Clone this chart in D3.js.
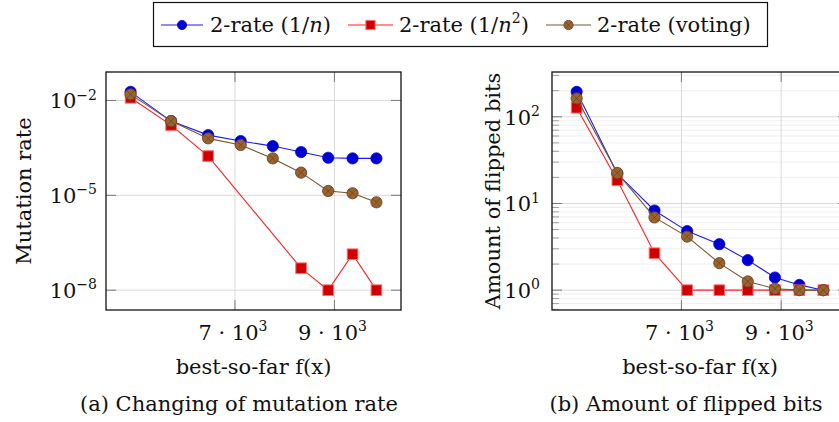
<!DOCTYPE html>
<html>
<head>
<meta charset="utf-8">
<script src="https://cdn.jsdelivr.net/npm/d3@7/dist/d3.min.js"></script>
<style>
  html, body { margin: 0; padding: 0; background: #fff; }
  svg { display: block; }
  text { font-family: "DejaVu Serif", "Liberation Serif", serif; fill: #111; }
</style>
</head>
<body>
<svg id="chart" width="839" height="422"></svg>
<script>
// best-so-far fitness at which each sample was taken
const fitness = [4900, 5715, 6460, 7115, 7760, 8330, 8875, 9365, 9845];

// mutation rate per strategy (null = zero rate, not drawn on log axis)
const rateOneOverN  = [0.0187, 0.00222, 8.0e-4, 5.2e-4, 3.6e-4, 2.33e-4, 1.54e-4, 1.47e-4, 1.47e-4];
const rateOneOverN2 = [0.0121, 1.66e-3, 1.74e-4, null, null, 4.95e-8, 1e-8, 1.37e-7, 1e-8];
const rateVoting    = [0.0155, 2.22e-3, 6.3e-4, 3.9e-4, 1.47e-4, 5.2e-5, 1.37e-5, 1.16e-5, 6.0e-6];

// amount of flipped bits per strategy
const bitsOneOverN  = [194, 22, 8.3, 4.8, 3.39, 2.22, 1.40, 1.15, 1.0];
const bitsOneOverN2 = [127, 18.5, 2.67, 1, 1, 1, 1, 1, 1];
const bitsVoting    = [163, 22.5, 6.9, 4.15, 2.05, 1.26, 1.04, 1.0, 1.0];

const xTicks = [7000, 9000];
const rateTicks = [1e-2, 1e-5, 1e-8];
const bitsTicks = [1, 10, 100];

const seriesNames = ["2-rate (1/n)", "2-rate (1/n²)", "2-rate (voting)"];

const svg = d3.select("#chart");

const styles = [
  { line: "#1a1aff", fill: "#0000d0", stroke: "#0000e0", shape: "circle" },
  { line: "#ff2020", fill: "#d00000", stroke: "#ff6a6a", shape: "square" },
  { line: "#7a5530", fill: "#9a6430", stroke: "#6a4420", shape: "otimes" }
];

// pgfplots-style enlarged limits (10% of the data range on each side)
function enlarge(lo, hi) { const p = (hi - lo) * 0.1; return [lo - p, hi + p]; }
function enlargeLog(vals) {
  const ls = vals.map(Math.log10);
  const [a, b] = enlarge(d3.min(ls), d3.max(ls));
  return [Math.pow(10, a), Math.pow(10, b)];
}

function drawMarker(g, shape, st, x, y, r) {
  if (shape === "circle") {
    g.append("circle").attr("cx", x).attr("cy", y).attr("r", r)
      .attr("fill", st.fill).attr("stroke", st.stroke).attr("stroke-width", 0.8);
  } else if (shape === "square") {
    g.append("rect").attr("x", x - r).attr("y", y - r).attr("width", 2 * r).attr("height", 2 * r)
      .attr("fill", st.fill).attr("stroke", st.stroke).attr("stroke-width", 1);
  } else {
    g.append("circle").attr("cx", x).attr("cy", y).attr("r", r)
      .attr("fill", st.fill).attr("stroke", st.stroke).attr("stroke-width", 0.9);
    const d = r * Math.SQRT1_2;
    g.append("path")
      .attr("d", `M${x - d},${y - d}L${x + d},${y + d}M${x - d},${y + d}L${x + d},${y - d}`)
      .attr("stroke", st.stroke).attr("stroke-width", 0.8).attr("fill", "none");
  }
}

function powLabel(sel, base, exp, size, supSize) {
  sel.append("tspan").attr("font-size", size).text(base);
  sel.append("tspan").attr("font-size", supSize).attr("dy", -size * 0.42).text(exp);
}

function panel(opts) {
  const { x0, x1, y0, y1, series, yTicks, minor, yLabel, yLabelX, tickLabelX, caption, captionX } = opts;
  const g = svg.append("g");
  const clipId = "clip" + x0;
  svg.append("clipPath").attr("id", clipId)
    .append("rect").attr("x", x0).attr("y", y0).attr("width", x1 - x0).attr("height", y1 - y0);

  const x = d3.scaleLinear().domain(enlarge(d3.min(fitness), d3.max(fitness))).range([x0, x1]);
  const allVals = series.flat().filter(v => v != null);
  const y = d3.scaleLog().domain(enlargeLog(allVals)).range([y1, y0]);

  // minor grid
  if (minor) {
    const [lo, hi] = y.domain();
    const minorVals = [];
    for (let e = Math.floor(Math.log10(lo)); e <= Math.ceil(Math.log10(hi)); e++) {
      for (let m = 2; m <= 9; m++) {
        const v = m * Math.pow(10, e);
        if (v > lo && v < hi) minorVals.push(v);
      }
    }
    g.selectAll(null).data(minorVals).join("line")
      .attr("x1", x0).attr("x2", x1).attr("y1", d => y(d)).attr("y2", d => y(d))
      .attr("stroke", "#efefef").attr("stroke-width", 1);
    g.selectAll(null).data(minorVals).join("path")
      .attr("d", d => `M${x0},${y(d)}h7M${x1},${y(d)}h-7`)
      .attr("stroke", "#8a8a8a").attr("stroke-width", 0.8);
  }
  // major grid
  g.selectAll(null).data(yTicks).join("line")
    .attr("x1", x0).attr("x2", x1).attr("y1", d => y(d)).attr("y2", d => y(d))
    .attr("stroke", "#dadada").attr("stroke-width", 1);
  g.selectAll(null).data(xTicks).join("line")
    .attr("x1", d => x(d)).attr("x2", d => x(d)).attr("y1", y0).attr("y2", y1)
    .attr("stroke", "#dadada").attr("stroke-width", 1);
  // major ticks (inside)
  g.selectAll(null).data(yTicks).join("path")
    .attr("d", d => `M${x0},${y(d)}h10M${x1},${y(d)}h-10`)
    .attr("stroke", "#7a7a7a").attr("stroke-width", 1);
  g.selectAll(null).data(xTicks).join("path")
    .attr("d", d => `M${x(d)},${y1}v-10M${x(d)},${y0}v10`)
    .attr("stroke", "#7a7a7a").attr("stroke-width", 1);

  // series
  const plot = g.append("g").attr("clip-path", `url(#${clipId})`);
  series.forEach((vals, i) => {
    const st = styles[i];
    const pts = fitness.map((f, k) => [f, vals[k]]).filter(p => p[1] != null);
    plot.append("path").datum(pts)
      .attr("d", d3.line().x(p => x(p[0])).y(p => y(p[1])))
      .attr("fill", "none").attr("stroke", st.line).attr("stroke-width", 1.1);
    pts.forEach(p => drawMarker(plot, st.shape, st, x(p[0]), y(p[1]), st.shape === "square" ? 5.3 : 5.6));
  });

  // frame
  g.append("rect").attr("x", x0).attr("y", y0).attr("width", x1 - x0).attr("height", y1 - y0)
    .attr("fill", "none").attr("stroke", "#111").attr("stroke-width", 1.3);

  // y tick labels
  yTicks.forEach(t => {
    const e = Math.round(Math.log10(t));
    const lab = g.append("text").attr("x", tickLabelX).attr("y", y(t) + 8)
      .attr("text-anchor", "end");
    powLabel(lab, "10", e < 0 ? "\u2212" + (-e) : String(e), 21, 14);
  });
  // x tick labels
  xTicks.forEach(t => {
    const lab = g.append("text").attr("x", x(t) - 2).attr("y", 340).attr("text-anchor", "middle");
    lab.append("tspan").attr("font-size", 21).text((t / 1000) + " \u00b7 10");
    lab.append("tspan").attr("font-size", 14).attr("dy", -9).text("3");
  });

  // axis labels
  g.append("text").attr("x", (x0 + Math.min(x1, 848)) / 2).attr("y", 374)
    .attr("text-anchor", "middle").attr("font-size", 21).text("best-so-far f(x)");
  g.append("text")
    .attr("transform", `translate(${yLabelX},${(y0 + y1) / 2}) rotate(-90)`)
    .attr("text-anchor", "middle").attr("font-size", 21).text(yLabel);

  // caption
  g.append("text").attr("x", captionX).attr("y", 411)
    .attr("text-anchor", "middle").attr("font-size", 21).text(caption);
}

panel({
  x0: 106, x1: 401, y0: 72, y1: 310,
  series: [rateOneOverN, rateOneOverN2, rateVoting],
  yTicks: rateTicks, minor: false,
  yLabel: "Mutation rate", yLabelX: 31, tickLabelX: 97,
  caption: "(a) Changing of mutation rate", captionX: 239
});

panel({
  x0: 552, x1: 848, y0: 72, y1: 310,
  series: [bitsOneOverN, bitsOneOverN2, bitsVoting],
  yTicks: bitsTicks, minor: true,
  yLabel: "Amount of flipped bits", yLabelX: 500, tickLabelX: 540,
  caption: "(b) Amount of flipped bits", captionX: 686
});

// legend
const leg = svg.append("g");
leg.append("rect").attr("x", 153.5).attr("y", 2.5).attr("width", 614).attr("height", 44)
  .attr("fill", "#fff").attr("stroke", "#111").attr("stroke-width", 1.2);
const legItems = [
  { x1: 161, x2: 203, tx: 210 },
  { x1: 348, x2: 393, tx: 399 },
  { x1: 546, x2: 591, tx: 597 }
];
legItems.forEach((it, i) => {
  const st = styles[i];
  leg.append("line").attr("x1", it.x1).attr("x2", it.x2).attr("y1", 25).attr("y2", 25)
    .attr("stroke", st.line).attr("stroke-width", 1.1);
  drawMarker(leg, st.shape, st, (it.x1 + it.x2) / 2, 25, st.shape === "square" ? 4.6 : 4.6);
  const t = leg.append("text").attr("x", it.tx).attr("y", 32).attr("font-size", 21);
  if (i === 0) {
    t.append("tspan").text("2-rate (1/");
    t.append("tspan").attr("font-style", "italic").text("n");
    t.append("tspan").text(")");
  } else if (i === 1) {
    t.append("tspan").text("2-rate (1/");
    t.append("tspan").attr("font-style", "italic").text("n");
    t.append("tspan").attr("font-size", 14).attr("dy", -9).text("2");
    t.append("tspan").attr("dy", 9).text(")");
  } else {
    t.text(seriesNames[2]);
  }
});
</script>
</body>
</html>
